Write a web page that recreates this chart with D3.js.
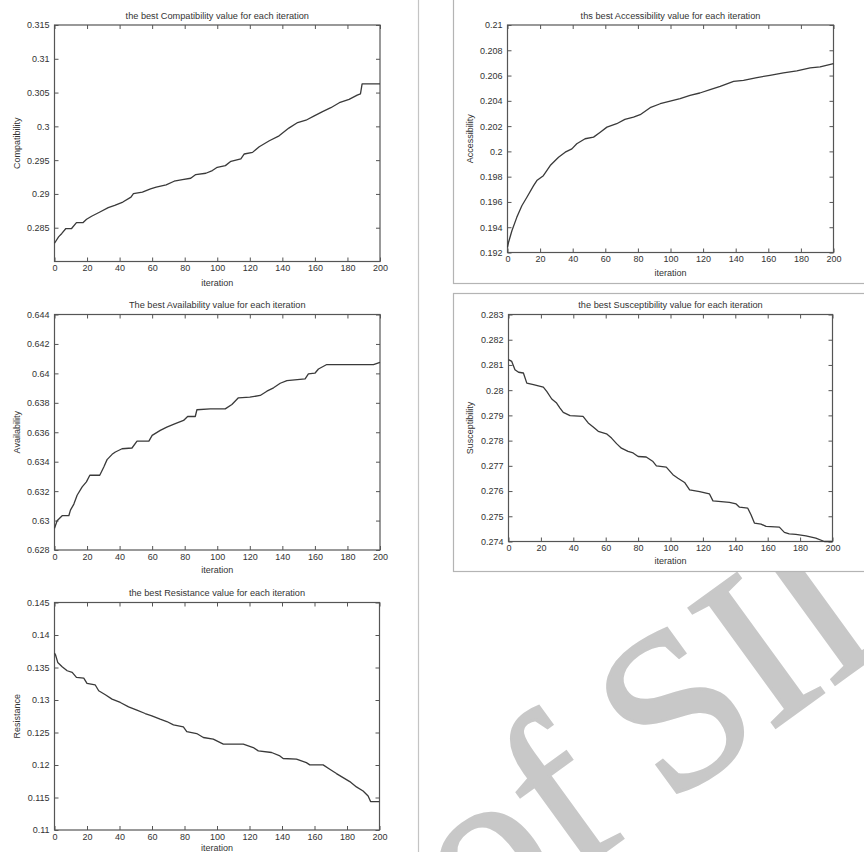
<!DOCTYPE html>
<html>
<head>
<meta charset="utf-8">
<script src="https://cdn.jsdelivr.net/npm/d3@7"></script>
<style>
  body { margin: 0; background: #fff; }
  svg { display: block; font-family: "Liberation Sans", Arial, sans-serif; }
  .tick text { fill: #333; font-size: 9px; }
  .tick line { stroke: #555; }
</style>
</head>
<body>
<div id="chart"></div>
<script>
// values (iteration -> best value)
const compatIter  = [0, 2.5, 4.5, 7, 10.5, 13.5, 17.6, 19.7, 22.8, 27.9, 33, 37, 42, 47, 48.5, 54, 59, 62.5, 68.6, 73.5, 78.6, 83.7, 86.8, 93, 97, 100, 105, 108.4, 114.5, 116.6, 121.7, 125.8, 132, 138, 144, 149.4, 154.5, 159.6, 164.7, 169.8, 175, 181, 186, 188, 189, 200];
const compatValue = [0.2827, 0.28365, 0.28415, 0.28488, 0.28488, 0.28576, 0.28576, 0.28625, 0.2867, 0.28733, 0.28797, 0.2883, 0.2888, 0.28953, 0.29003, 0.29026, 0.29076, 0.291, 0.29135, 0.29188, 0.29213, 0.29232, 0.29287, 0.29306, 0.29346, 0.29394, 0.29419, 0.29482, 0.29518, 0.29591, 0.29615, 0.29699, 0.29787, 0.2986, 0.29974, 0.30056, 0.30091, 0.30154, 0.30218, 0.30276, 0.3035, 0.304, 0.30463, 0.30482, 0.30629, 0.30629];

const accessIter  = [0, 0.6, 2.7, 5.7, 8.8, 11.9, 16, 18, 22, 26.2, 31.3, 35.4, 39.5, 42.5, 47.6, 52.8, 56.9, 61, 67, 72, 77.3, 81.4, 87.5, 93.7, 99.8, 105.9, 112, 118, 124.3, 130.5, 138.7, 144.8, 153, 161, 169.3, 177.5, 185.7, 191.8, 200];
const accessValue = [0.1924, 0.19279, 0.19372, 0.19478, 0.1957, 0.19637, 0.19729, 0.19769, 0.19808, 0.19888, 0.19954, 0.19994, 0.2002, 0.2006, 0.201, 0.20113, 0.20152, 0.20192, 0.20219, 0.20253, 0.20271, 0.2029, 0.20346, 0.20377, 0.20398, 0.20417, 0.20443, 0.20462, 0.20488, 0.20515, 0.20554, 0.20562, 0.20584, 0.20602, 0.20621, 0.20637, 0.2066, 0.20668, 0.20695];

const availIter  = [0, 1.6, 4.7, 8.8, 9.8, 11.9, 13.9, 17, 19.6, 21.7, 27.8, 30.3, 32.3, 35.4, 37.4, 41.5, 47.6, 50.7, 58, 60, 65, 69, 74.2, 79.3, 81.8, 86.5, 87.5, 95.7, 104.9, 109, 113, 120, 126.4, 130.5, 134.6, 138.7, 142.8, 154, 156, 160, 162.2, 167.3, 196, 200];
const availValue = [0.62947, 0.62999, 0.63033, 0.63033, 0.63071, 0.63112, 0.63172, 0.63229, 0.63263, 0.63308, 0.63308, 0.63364, 0.63414, 0.6345, 0.63466, 0.63488, 0.63493, 0.6354, 0.6354, 0.63579, 0.63613, 0.63635, 0.63658, 0.6368, 0.63707, 0.63707, 0.63753, 0.63759, 0.63759, 0.63789, 0.63834, 0.63838, 0.6385, 0.63879, 0.63902, 0.63933, 0.63951, 0.63963, 0.63996, 0.64001, 0.6403, 0.6406, 0.6406, 0.64075];

const suscIter  = [0, 2, 4, 6.2, 9.2, 11.3, 15.4, 21.5, 23.6, 26.7, 29.7, 31.8, 33.8, 38, 46, 49.2, 52.3, 55.4, 60.5, 63.6, 66.7, 69.7, 73.8, 76.9, 80, 85, 89.2, 91.3, 97.4, 101.5, 104.6, 108.7, 111.8, 118, 124, 126.2, 136.4, 140.5, 142.6, 147.7, 149.7, 151.8, 155.9, 159, 167.2, 170.3, 173.3, 177.4, 183.6, 189.7, 195, 200];
const suscValue = [0.28121, 0.28114, 0.28081, 0.28071, 0.28068, 0.28028, 0.28022, 0.28012, 0.27995, 0.27965, 0.27949, 0.27929, 0.27912, 0.27899, 0.27896, 0.2787, 0.27854, 0.27837, 0.27827, 0.2781, 0.27788, 0.2777, 0.27757, 0.27751, 0.27737, 0.27735, 0.27717, 0.277, 0.27695, 0.27665, 0.27651, 0.27634, 0.27605, 0.27598, 0.27589, 0.27561, 0.27555, 0.27549, 0.27536, 0.27532, 0.27506, 0.27473, 0.27469, 0.2746, 0.27457, 0.27436, 0.2743, 0.27428, 0.27422, 0.27413, 0.274, 0.274];

const resistIter  = [0, 0.6, 2, 4.7, 7.8, 10.9, 13.5, 18, 20, 25, 27.2, 31.3, 35.4, 40.5, 45.6, 50.7, 55.8, 59.9, 65, 69.1, 73.2, 79.3, 81.4, 87.5, 91.6, 97.7, 103.9, 116.2, 122.3, 125.4, 133.6, 138.7, 140.7, 148.9, 155, 157.1, 165.3, 169.4, 173.5, 177.6, 181.7, 185.8, 189.9, 193, 194.5, 200];
const resistValue = [0.1372, 0.13696, 0.13578, 0.13512, 0.1345, 0.13424, 0.13347, 0.13337, 0.13255, 0.13234, 0.13142, 0.1308, 0.13013, 0.12962, 0.12895, 0.12844, 0.12792, 0.12757, 0.12705, 0.12669, 0.12618, 0.12587, 0.12515, 0.12484, 0.12423, 0.12397, 0.1232, 0.1232, 0.12269, 0.12217, 0.12192, 0.1214, 0.121, 0.12089, 0.12037, 0.12002, 0.12002, 0.11935, 0.11868, 0.11806, 0.11745, 0.11663, 0.11601, 0.11524, 0.11437, 0.11437];

// tick values
const xTicks = [0, 20, 40, 60, 80, 100, 120, 140, 160, 180, 200];
const compatTicks = [0.285, 0.29, 0.295, 0.3, 0.305, 0.31, 0.315];
const accessTicks = [0.192, 0.194, 0.196, 0.198, 0.2, 0.202, 0.204, 0.206, 0.208, 0.21];
const availTicks  = [0.628, 0.63, 0.632, 0.634, 0.636, 0.638, 0.64, 0.642, 0.644];
const suscTicks   = [0.274, 0.275, 0.276, 0.277, 0.278, 0.279, 0.28, 0.281, 0.282, 0.283];
const resistTicks = [0.11, 0.115, 0.12, 0.125, 0.13, 0.135, 0.14, 0.145];

const W = 864, H = 852;
const svg = d3.select("#chart").append("svg")
    .attr("width", W)
    .attr("height", H);

// faint watermark of the scan, sits behind the figure panels
svg.append("text")
    .attr("transform", "translate(479,943) rotate(-36)")
    .attr("font-family", "'Liberation Serif', 'DejaVu Serif', serif")
    .attr("font-size", 225)
    .attr("word-spacing", -10)
    .attr("fill", "#c8c8c8")
    .attr("stroke", "#c8c8c8")
    .attr("stroke-width", 3)
    .text("of SID");

// column separator
svg.append("line")
    .attr("x1", 418.5).attr("x2", 418.5)
    .attr("y1", 0).attr("y2", H)
    .attr("stroke", "#c4c4c4")
    .attr("stroke-width", 1.2);

// frames round the right hand figures
function frame(y0, y1) {
    svg.append("rect")
        .attr("x", 453.5).attr("y", y0)
        .attr("width", 420).attr("height", y1 - y0)
        .attr("fill", "#fff")
        .attr("stroke", "#b4b4b4")
        .attr("stroke-width", 1.2);
}
frame(-5, 283.5);
frame(293.5, 571.5);

const fmt = v => String(+v.toFixed(4));

function drawPanel(p) {
    const x = d3.scaleLinear().domain([0, 200]).range([p.left, p.right]);
    const y = d3.scaleLinear().domain(p.yDomain).range([p.bottom, p.top]);
    const g = svg.append("g");

    // plot box
    g.append("rect")
        .attr("x", p.left).attr("y", p.top)
        .attr("width", p.right - p.left).attr("height", p.bottom - p.top)
        .attr("fill", "#fff")
        .attr("stroke", "#555")
        .attr("stroke-width", 1.2);

    // axes with inward ticks on all four sides
    const bottom = g.append("g")
        .attr("transform", `translate(0,${p.bottom})`)
        .call(d3.axisBottom(x).tickValues(xTicks).tickSize(-4).tickPadding(p.xPad).tickFormat(d3.format("d")));
    const left = g.append("g")
        .attr("transform", `translate(${p.left},0)`)
        .call(d3.axisLeft(y).tickValues(p.yTicks).tickSize(-4).tickPadding(5).tickFormat(fmt));
    g.append("g")
        .attr("transform", `translate(0,${p.top})`)
        .call(d3.axisTop(x).tickValues(xTicks).tickSize(-4).tickFormat(""));
    g.append("g")
        .attr("transform", `translate(${p.right},0)`)
        .call(d3.axisRight(y).tickValues(p.yTicks).tickSize(-4).tickFormat(""));
    g.selectAll(".domain").remove();
    g.selectAll(".tick line").attr("stroke", "#555");
    bottom.selectAll("text").attr("fill", "#333");
    left.selectAll("text").attr("fill", "#333");

    // series
    const line = d3.line()
        .x(d => x(d[0]))
        .y(d => y(d[1]));
    g.append("path")
        .datum(d3.zip(p.iter, p.value))
        .attr("fill", "none")
        .attr("stroke", "#3a3a3a")
        .attr("stroke-width", 1.3)
        .attr("stroke-linejoin", "round")
        .attr("d", line);

    // title and axis labels
    g.append("text")
        .attr("x", (p.left + p.right) / 2)
        .attr("y", p.titleY)
        .attr("text-anchor", "middle")
        .attr("font-size", 9.2)
        .attr("fill", "#333")
        .text(p.title);
    g.append("text")
        .attr("x", (p.left + p.right) / 2)
        .attr("y", p.bottom + p.xLabelGap)
        .attr("text-anchor", "middle")
        .attr("font-size", 9)
        .attr("fill", "#333")
        .text("iteration");
    g.append("text")
        .attr("transform", `translate(${p.yLabelX},${(p.top + p.bottom) / 2}) rotate(-90)`)
        .attr("text-anchor", "middle")
        .attr("font-size", 9)
        .attr("fill", "#333")
        .text(p.yLabel);
}

drawPanel({
    left: 54.5, right: 380, top: 25, bottom: 261.5,
    yDomain: [0.28, 0.315], yTicks: compatTicks,
    iter: compatIter, value: compatValue,
    title: "the best Compatibility value for each iteration", titleY: 19,
    yLabel: "Compatibility", yLabelX: 19.5, xPad: 3.5, xLabelGap: 24
});
drawPanel({
    left: 507.5, right: 833.5, top: 25, bottom: 252.5,
    yDomain: [0.192, 0.21], yTicks: accessTicks,
    iter: accessIter, value: accessValue,
    title: "ths best Accessibility value for each iteration", titleY: 19,
    yLabel: "Accessibility", yLabelX: 473, xPad: 3, xLabelGap: 23
});
drawPanel({
    left: 54.5, right: 380, top: 314.5, bottom: 550,
    yDomain: [0.628, 0.644], yTicks: availTicks,
    iter: availIter, value: availValue,
    title: "The best Availability value for each iteration", titleY: 308,
    yLabel: "Availability", yLabelX: 19.5, xPad: 3.5, xLabelGap: 23
});
drawPanel({
    left: 508.5, right: 832.5, top: 314.5, bottom: 541.5,
    yDomain: [0.274, 0.283], yTicks: suscTicks,
    iter: suscIter, value: suscValue,
    title: "the best Susceptibility value for each iteration", titleY: 308,
    yLabel: "Susceptibility", yLabelX: 473, xPad: 3, xLabelGap: 22
});
drawPanel({
    left: 54.5, right: 379.5, top: 602.5, bottom: 830,
    yDomain: [0.11, 0.145], yTicks: resistTicks,
    iter: resistIter, value: resistValue,
    title: "the best Resistance value for each iteration", titleY: 596,
    yLabel: "Resistance", yLabelX: 19.5, xPad: 3.5, xLabelGap: 21
});
</script>
</body>
</html>
